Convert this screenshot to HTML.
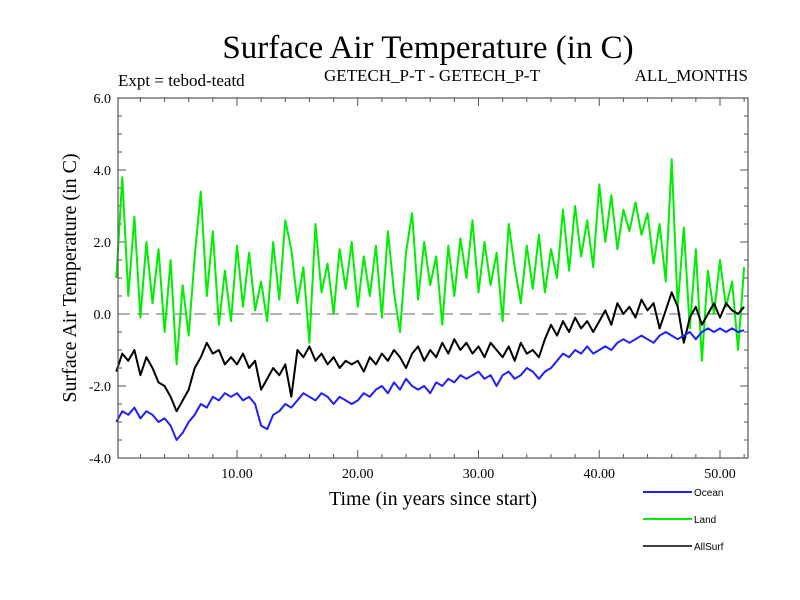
<!DOCTYPE html>
<html><head><meta charset="utf-8"><style>
body{margin:0;background:#fff;}
svg{display:block;font-family:"Liberation Serif",serif;}
</style></head><body>
<svg id="chart" width="800" height="600" xmlns="http://www.w3.org/2000/svg">
<text x="428" y="58" font-size="33" text-anchor="middle">Surface Air Temperature (in C)</text>
<text x="118" y="86" font-size="17">Expt = tebod-teatd</text>
<text x="432" y="81" font-size="17" text-anchor="middle">GETECH_P-T - GETECH_P-T</text>
<text x="748" y="81" font-size="17" text-anchor="end">ALL_MONTHS</text>
<text transform="translate(76,278) rotate(-90)" font-size="20" text-anchor="middle">Surface Air Temperature (in C)</text>
<text x="433" y="505" font-size="20" text-anchor="middle">Time (in years since start)</text>
<g id="axes"></g>
<g id="series"></g>
<rect x="118" y="98" width="630" height="360" fill="none" stroke="#555" stroke-width="1.2"/>
<g font-family="Liberation Sans,sans-serif" font-size="10">
<g><line x1="643" y1="492" x2="692" y2="492" stroke="#2020ff" stroke-width="2"/><text x="694" y="496">Ocean</text></g>
<g><line x1="643" y1="519" x2="692" y2="519" stroke="#00ee00" stroke-width="2"/><text x="694" y="523">Land</text></g>
<g><line x1="643" y1="546" x2="692" y2="546" stroke="#000" stroke-width="1.5"/><text x="694" y="550">AllSurf</text></g>
</g>
</svg>
<script>
const yTicks=[-4,-2,0,2,4,6];
const yTickLabels=["-4.0","-2.0","0.0","2.0","4.0","6.0"];
const xTicks=[10,20,30,40,50];
const xTickLabels=["10.00","20.00","30.00","40.00","50.00"];
const timeStep=0.5;
const ocean=[-3.0,-2.7,-2.8,-2.6,-2.9,-2.7,-2.8,-3.0,-2.9,-3.1,
-3.5,-3.3,-3.0,-2.8,-2.5,-2.6,-2.3,-2.4,-2.2,-2.3,
-2.2,-2.4,-2.3,-2.5,-3.1,-3.2,-2.8,-2.7,-2.5,-2.6,
-2.4,-2.2,-2.3,-2.4,-2.2,-2.3,-2.5,-2.3,-2.4,-2.5,
-2.4,-2.2,-2.3,-2.1,-2.0,-2.2,-1.9,-2.1,-1.8,-2.0,
-2.1,-2.0,-2.2,-1.9,-2.0,-1.8,-1.9,-1.7,-1.8,-1.7,
-1.6,-1.8,-1.7,-2.0,-1.7,-1.6,-1.8,-1.7,-1.5,-1.6,
-1.8,-1.6,-1.5,-1.3,-1.1,-1.2,-1.0,-1.1,-0.9,-1.1,
-1.0,-0.9,-1.0,-0.8,-0.7,-0.8,-0.7,-0.6,-0.7,-0.8,
-0.6,-0.5,-0.6,-0.7,-0.6,-0.5,-0.7,-0.5,-0.4,-0.5,
-0.4,-0.5,-0.4,-0.5,-0.45];
const land=[1.0,3.8,0.5,2.7,-0.1,2.0,0.3,1.8,-0.5,1.5,
-1.4,0.8,-0.6,1.6,3.4,0.5,2.3,-0.3,1.2,-0.2,
1.9,0.2,1.7,0.1,0.9,-0.2,2.0,0.4,2.6,1.8,
0.3,1.3,-0.8,2.5,0.6,1.4,0.0,1.8,0.7,2.0,
0.2,1.6,0.5,1.9,-0.1,2.3,0.6,-0.5,1.7,2.8,
0.4,2.0,0.8,1.6,-0.3,1.9,0.5,2.1,1.0,2.6,
0.6,2.0,0.8,1.7,-0.2,2.5,1.3,0.3,1.9,0.7,
2.2,0.6,1.8,1.0,2.9,1.2,3.0,1.6,2.6,1.3,
3.6,2.0,3.3,1.8,2.9,2.3,3.1,2.2,2.8,1.4,
2.5,0.9,4.3,0.2,2.4,-0.4,1.8,-1.3,1.2,0.0,
1.5,0.2,0.9,-1.0,1.3];
const allSurf=[-1.6,-1.1,-1.3,-1.0,-1.7,-1.2,-1.5,-1.9,-2.0,-2.3,
-2.7,-2.4,-2.1,-1.5,-1.2,-0.8,-1.1,-1.0,-1.4,-1.2,
-1.4,-1.1,-1.5,-1.3,-2.1,-1.8,-1.5,-1.7,-1.4,-2.3,
-1.0,-1.2,-0.9,-1.3,-1.1,-1.4,-1.2,-1.5,-1.3,-1.4,
-1.3,-1.6,-1.2,-1.4,-1.1,-1.3,-1.0,-1.2,-1.5,-1.1,
-0.9,-1.3,-1.0,-1.2,-0.8,-1.1,-0.7,-1.0,-0.8,-1.1,
-0.9,-1.2,-0.8,-1.0,-1.2,-0.9,-1.3,-0.8,-1.1,-1.0,
-1.2,-0.7,-0.3,-0.6,-0.2,-0.5,-0.1,-0.4,-0.2,-0.5,
-0.2,0.1,-0.3,0.3,0.0,0.2,-0.1,0.4,0.1,0.3,
-0.4,0.1,0.6,0.2,-0.8,-0.1,0.2,-0.3,0.0,0.3,
-0.1,0.3,0.1,0.0,0.2];
const NS="http://www.w3.org/2000/svg";
const X=t=>116.25+t*12.075;
const Y=v=>458-(v+4)*36;
const axes=document.getElementById('axes');
const ser=document.getElementById('series');
function mk(tag,at,parent){const e=document.createElementNS(NS,tag);for(const k in at)e.setAttribute(k,at[k]);parent.appendChild(e);return e;}
for(let v=-4;v<=6.001;v+=0.5){
  const major=Math.abs(v/2-Math.round(v/2))<1e-6;const L=major?8:4;
  const tk=mk('path',{d:`M118 ${Y(v)}h${L}M748 ${Y(v)}h${-L}`,stroke:'#555','stroke-width':1},axes);
  
  
}
yTicks.forEach((v,i)=>{const t=mk('text',{x:111,y:Y(v)+5,'font-size':14,'text-anchor':'end'},axes);t.textContent=yTickLabels[i];

});
for(let t=2;t<=52;t+=2){
  const L=(t%10===0)?8:4;
  const tk=mk('path',{d:`M${X(t)} 458v${-L}M${X(t)} 98v${L}`,stroke:'#555','stroke-width':1},axes);
  
  
}
xTicks.forEach((v,i)=>{const t=mk('text',{x:X(v),y:478,'font-size':14,'text-anchor':'middle'},axes);t.textContent=xTickLabels[i];

});
const zl=mk('line',{x1:118,x2:748,y1:Y(0),y2:Y(0),stroke:'#666','stroke-dasharray':'12,7','stroke-width':1},axes);


function line(arr,color,w,name){
  const d=arr.map((v,i)=>(i?'L':'M')+Math.min(X(i*timeStep),748).toFixed(1)+' '+Y(v).toFixed(1)).join('');
  const p=mk('path',{d,fill:'none',stroke:color,'stroke-width':w,'stroke-linejoin':'round'},ser);
  
  
}
line(land,'#00ee00',2,'land-line');
line(allSurf,'#000',2,'allsurf-line');
line(ocean,'#2020ff',2,'ocean-line');
</script>
</body></html>
